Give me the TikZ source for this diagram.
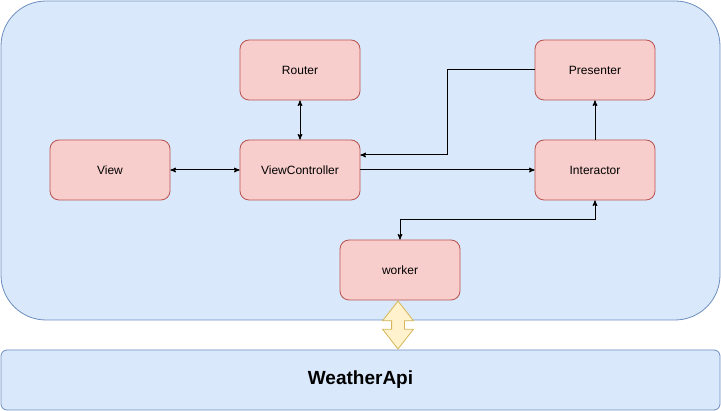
\documentclass[tikz,border=0pt]{standalone}
\usepackage{fontspec}
\setmainfont{Liberation Sans}
\usetikzlibrary{arrows,shapes.arrows}

\definecolor{appfill}{HTML}{DAE8FC}
\definecolor{appline}{HTML}{6C8EBF}
\definecolor{boxfill}{HTML}{F8CECC}
\definecolor{boxline}{HTML}{B85450}
\definecolor{linkfill}{HTML}{FFF2CC}
\definecolor{linkline}{HTML}{D6B656}

\begin{document}
\begin{tikzpicture}[->,>=stealth',x=1pt,y=-1pt,line width=1pt,font=\fontsize{12}{14}\selectfont]

    \tikzstyle{layer}=[draw=appline,fill=appfill,line width=0.8pt,minimum width=719pt]
    \tikzstyle{box}=[draw=boxline,fill=boxfill,line width=0.8pt,rounded corners=9pt,minimum width=120pt,minimum height=60pt]
    \tikzstyle{link}=[double arrow,draw=linkline,fill=linkfill,line width=0.8pt,rotate=90,minimum height=48pt,minimum width=30pt,inner sep=6pt,double arrow head extend=9pt,double arrow tip angle=76]

    \useasboundingbox (0,0) rectangle (721,411);

    \node[layer,minimum height=319pt,rounded corners=45pt] (app) at (360.5,160.5) {};
    \node[layer,minimum height=60pt,rounded corners=6pt]   (api) at (360.5,380)   {\fontsize{19}{22}\selectfont\bfseries WeatherApi};

    \node[box] (rt) at (300,70)  {Router};
    \node[box] (pr) at (595,70)  {Presenter};
    \node[box] (v)  at (110,170) {View};
    \node[box] (vc) at (300,170) {ViewController};
    \node[box] (it) at (595,170) {Interactor};
    \node[box] (wk) at (400,270) {worker};

    \node[link] (ln) at (398,325) {};

    \coordinate (back) at (447,155);
    \coordinate (up)   at (595,220);

    \path (v)  edge[<->] (vc)
          (rt) edge[<->] (vc)
          (vc) edge      (it)
          (it) edge      (pr)
    ;
    \draw (pr.west) -| (back) -- (vc.east |- back);
    \draw[<->] (wk.north) |- (up) -- (it.south);
\end{tikzpicture}
\end{document}
